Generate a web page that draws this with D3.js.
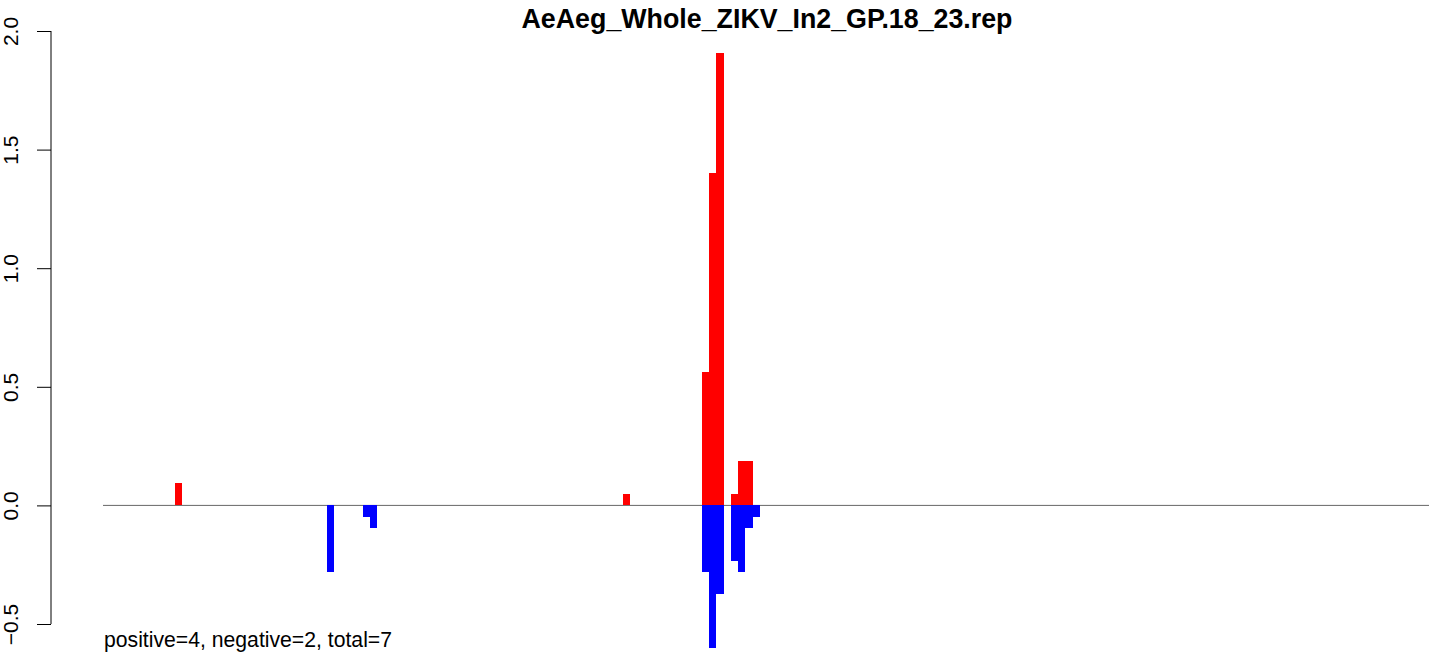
<!DOCTYPE html>
<html>
<head>
<meta charset="utf-8">
<script src="https://cdn.jsdelivr.net/npm/d3@7"></script>
<style>
  html, body { margin: 0; padding: 0; background: #fff; }
  svg { display: block; font-family: "Liberation Sans", Arial, Helvetica, sans-serif; }
</style>
</head>
<body>
<svg id="chart" width="1429" height="655"></svg>
<script>
// ---- data ----
const title = "AeAeg_Whole_ZIKV_In2_GP.18_23.rep";
const footnote = "positive=4, negative=2, total=7";
const binCount = 184;
const posBins   = [10,    72,    83,    84,   85,    87,    88,    89];
const posValues = [0.094, 0.046, 0.561, 1.40, 1.909, 0.046, 0.187, 0.187];
const negBins   = [31,     36,     37,     83,     84,     85,     87,     88,     89,     90];
const negValues = [-0.281, -0.049, -0.096, -0.281, -0.603, -0.375, -0.235, -0.281, -0.096, -0.049];
const yTicks = [-0.5, 0, 0.5, 1, 1.5, 2];
const yTickLabels = ["\u22120.5", "0.0", "0.5", "1.0", "1.5", "2.0"];

// ---- layout ----
const svg = d3.select("#chart");
const x = d3.scaleLinear().domain([0, binCount]).range([102.7, 102.7 + binCount * 7.22]);
const y = d3.scaleLinear().domain([-0.5, 2]).range([624, 31]);

// baseline
svg.append("line")
  .attr("x1", 103).attr("x2", 1429)
  .attr("y1", y(0)).attr("y2", y(0))
  .attr("stroke", "#666").attr("stroke-width", 1);

// positive bars
svg.append("g").selectAll("rect")
  .data(posBins.map((b, i) => ({ b, v: posValues[i] })))
  .join("rect")
  .attr("x", d => x(d.b))
  .attr("width", d => x(d.b + 1) - x(d.b))
  .attr("y", d => y(d.v))
  .attr("height", d => y(0) - y(d.v))
  .attr("fill", "#ff0000")
  .attr("shape-rendering", "crispEdges");

// negative bars
svg.append("g").selectAll("rect")
  .data(negBins.map((b, i) => ({ b, v: negValues[i] })))
  .join("rect")
  .attr("x", d => x(d.b))
  .attr("width", d => x(d.b + 1) - x(d.b))
  .attr("y", y(0))
  .attr("height", d => y(d.v) - y(0))
  .attr("fill", "#0000ff")
  .attr("shape-rendering", "crispEdges");

// y axis
const axis = d3.axisLeft(y).tickValues(yTicks).tickSize(14).tickFormat((d, i) => yTickLabels[i]);
const gAxis = svg.append("g").attr("transform", "translate(51,0)").call(axis);
gAxis.select(".domain").attr("d", `M0,${y(2)}V${y(-0.5)}`).attr("stroke", "#000");
gAxis.selectAll(".tick line").attr("stroke", "#000");
gAxis.selectAll(".tick text")
  .attr("x", null).attr("dy", null)
  .attr("font-size", 21)
  .attr("fill", "#000")
  .attr("text-anchor", "middle")
  .attr("transform", "translate(-33.5,0) rotate(-90)");

// title
svg.append("text")
  .attr("x", 767).attr("y", 28)
  .attr("text-anchor", "middle")
  .attr("font-weight", "bold")
  .attr("font-size", 26.8)
  .text(title);

// footnote
svg.append("text")
  .attr("x", 104).attr("y", 647)
  .attr("font-size", 21.2)
  .text(footnote);
</script>
</body>
</html>
